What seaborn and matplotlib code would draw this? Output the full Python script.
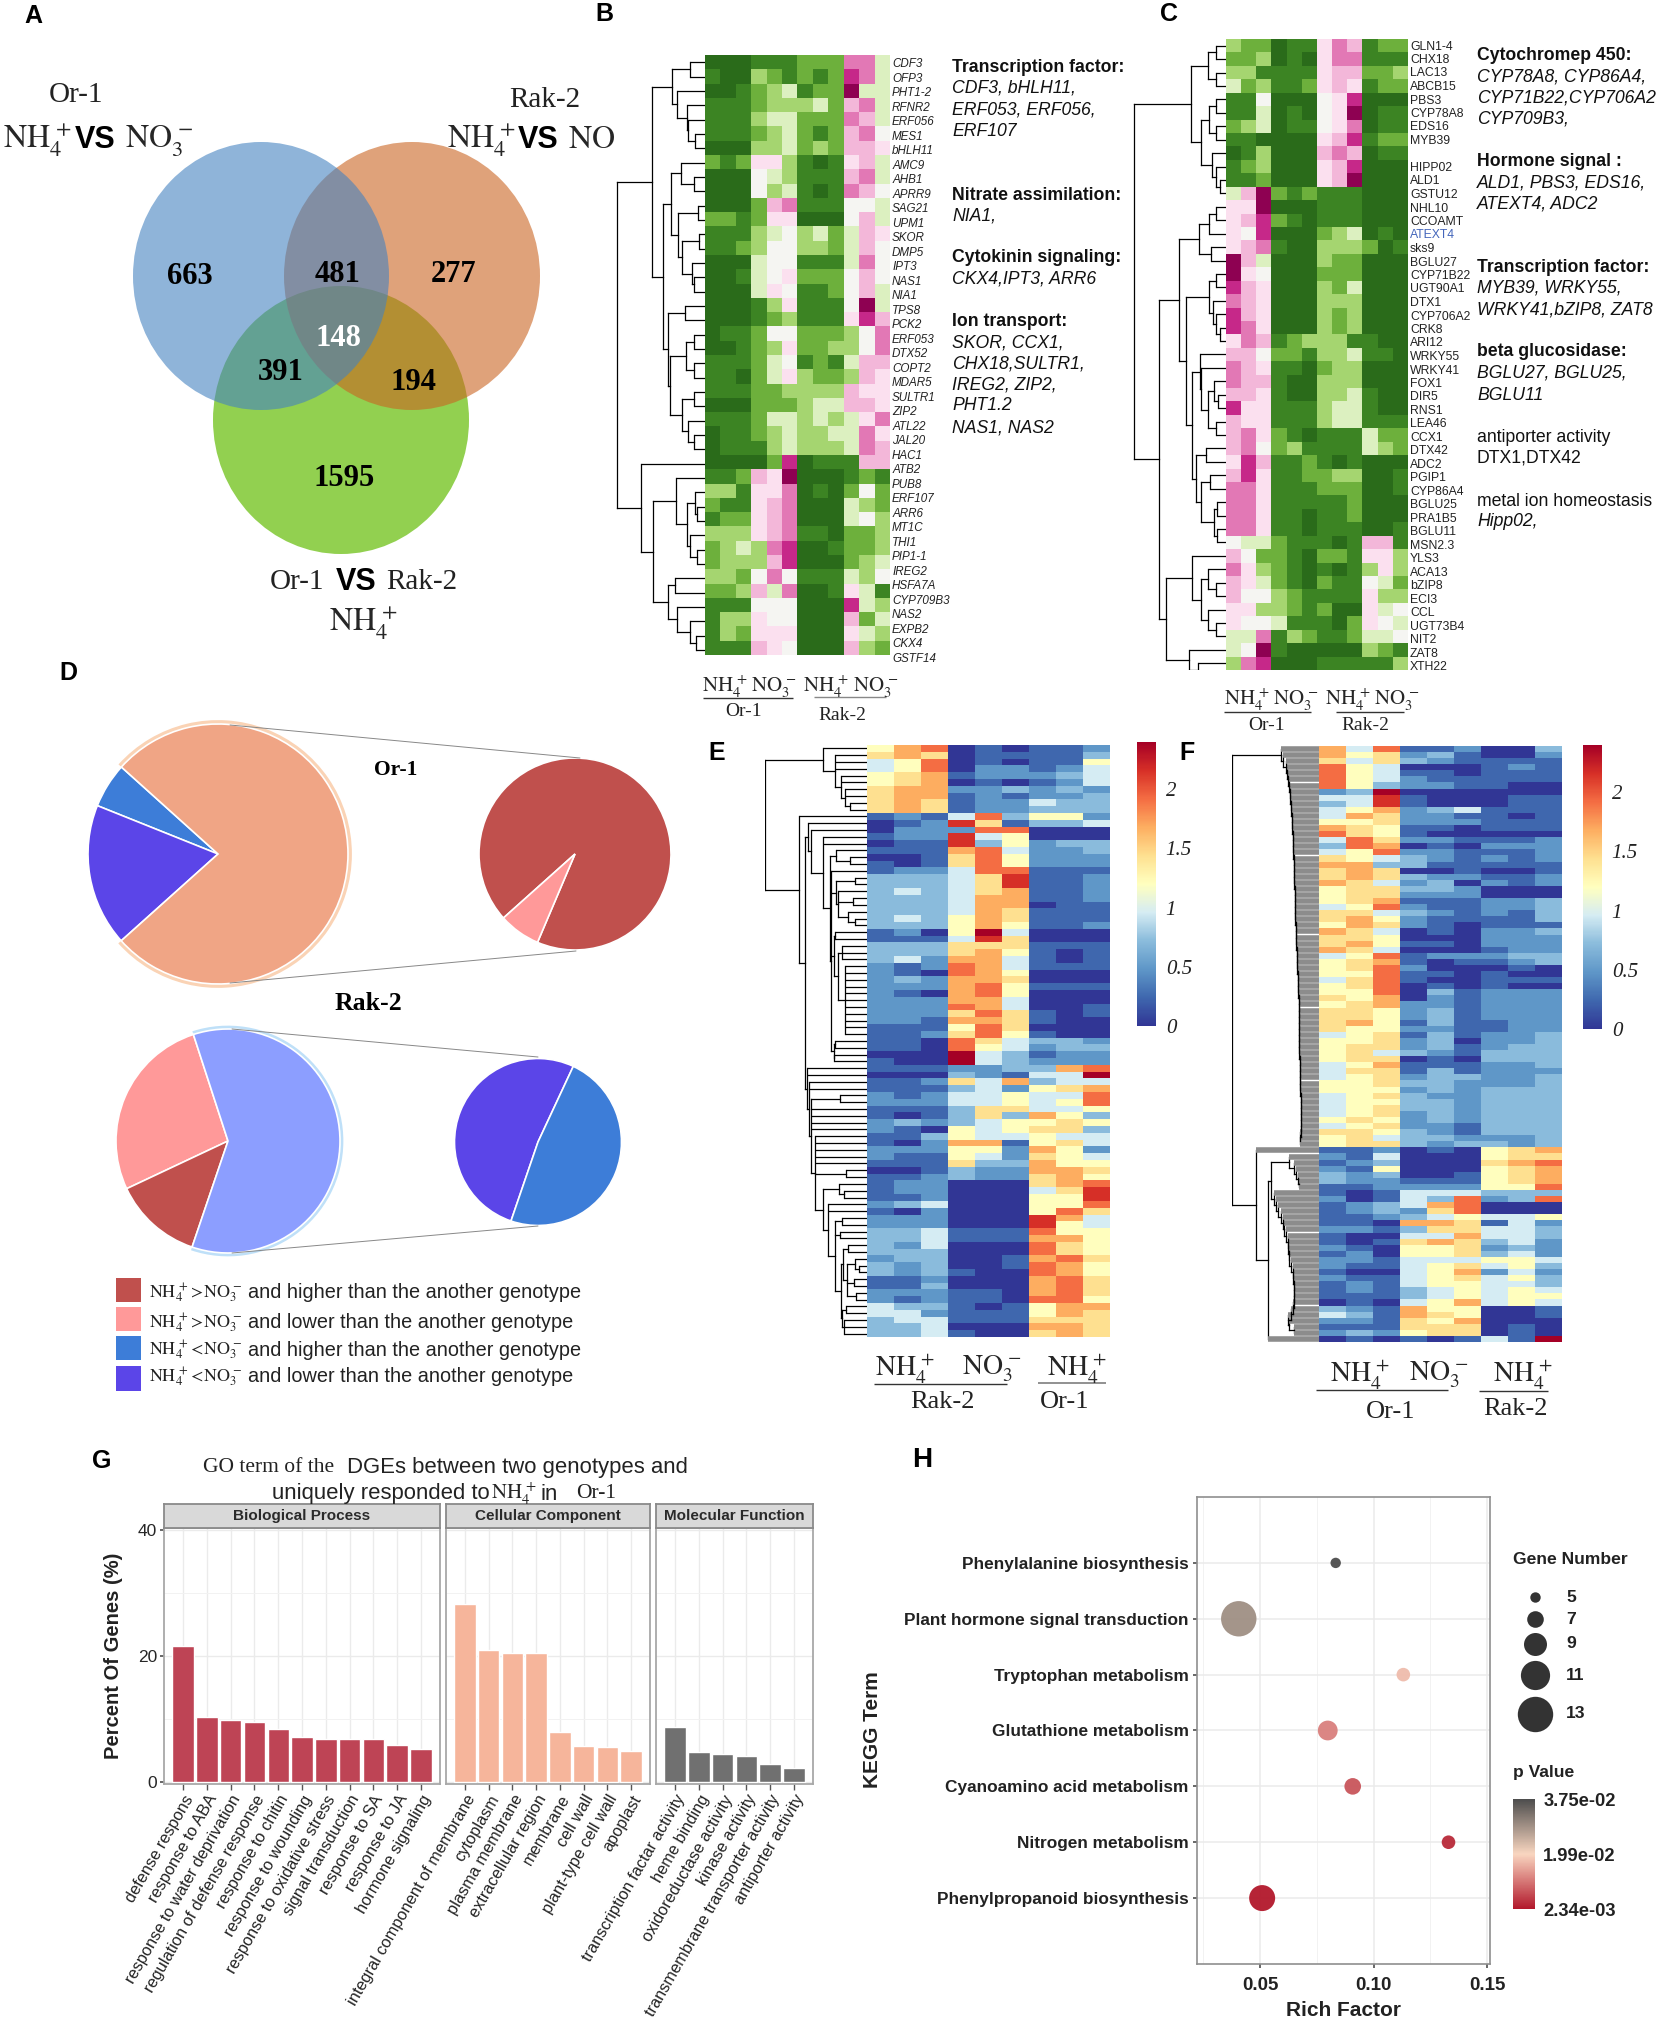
#### Multi panel figure: venn, clustered heatmaps, pies, GO bars, KEGG bubbles
import numpy as np
import pandas as pd
import matplotlib
matplotlib.use("Agg")
import matplotlib.pyplot as plt
import seaborn as sns
from matplotlib.patches import Ellipse, Rectangle
from matplotlib.colors import LinearSegmentedColormap, Normalize
from matplotlib.cm import ScalarMappable

W, H = 1658, 2022
SERIF = "Liberation Serif"

### Data
VENN_COUNTS = ["663", "481", "277", "148", "391", "194", "1595"]

# heatmap B/C cells are levels 0 (dark green) .. a (dark magenta)
B_GENES = ["CDF3", "OFP3", "PHT1-2", "RFNR2", "ERF056", "MES1", "bHLH11", "AMC9", "AHB1", "APRR9", "SAG21",
           "UPM1", "SKOR", "DMP5", "IPT3", "NAS1", "NIA1", "TPS8", "PCK2", "ERF053", "DTX52", "COPT2", "MDAR5",
           "SULTR1", "ZIP2", "ATL22", "JAL20", "HAC1", "ATB2", "PUB8", "ERF107", "ARR6", "MT1C", "THI1", "PIP1-1",
           "IREG2", "HSFA7A", "CYP709B3", "NAS2", "EXPB2", "CKX4", "GSTF14"]
B_CELLS = ["000 111 222 884", "100 321 212 984", "001 234 122 a44", "111 233 342 784", "111 344 222 874",
           "111 234 212 785", "000 334 232 776", "212 663 101 674", "000 543 111 784", "000 534 101 875",
           "000 278 111 554", "221 266 000 574", "111 345 342 476", "112 355 332 475", "000 455 111 485",
           "001 456 222 575", "000 465 112 574", "000 136 111 5a4", "000 123 111 697", "011 255 222 358",
           "001 236 223 358", "111 245 121 477", "110 246 322 376", "111 223 333 766", "000 222 344 776",
           "111 244 343 468", "011 234 334 486", "011 134 333 487", "000 029 011 177", "112 76a 000 121",
           "331 668 010 252", "211 678 000 432", "122 678 000 453", "333 678 110 223", "234 389 001 223",
           "233 379 000 234", "332 585 111 435", "223 748 001 641", "111 555 000 943", "133 655 000 724",
           "132 666 000 643", "111 765 000 732"]

C_GENES = ["GLN1-4", "CHX18", "LAC13", "ABCB15", "PBS3", "CYP78A8", "EDS16", "MYB39", "", "HIPP02", "ALD1",
           "GSTU12", "NHL10", "CCOAMT", "ATEXT4", "sks9", "BGLU27", "CYP71B22", "UGT90A1", "DTX1", "CYP706A2",
           "CRK8", "ARI12", "WRKY55", "WRKY41", "FOX1", "DIR5", "RNS1", "LEA46", "CCX1", "DTX42", "ADC2", "PGIP1",
           "CYP86A4", "BGLU25", "PRA1B5", "BGLU11", "MSN2.3", "YLS3", "ACA13", "bZIP8", "ECI3", "CCL", "UGT73B4",
           "NIT2", "ZAT8", "XTH22"]
C_CELLS = ["322 011 687 122", "223 010 688 111", "331 111 677 223", "423 112 676 122", "115 000 569 000",
           "114 010 56a 011", "234 011 568 011", "110 000 679 122", "013 000 787 011", "123 000 679 000",
           "112 000 67a 000", "47a 212 111 000", "66a 000 111 000", "679 210 111 000", "659 000 234 010",
           "678 100 333 201", "a74 000 322 000", "a65 000 222 000", "976 000 324 000", "876 000 333 000",
           "976 000 323 000", "986 000 323 000", "687 123 331 100", "775 221 334 110", "876 110 233 000",
           "877 100 333 000", "776 100 334 100", "966 111 344 100", "766 111 344 111", "786 210 111 422",
           "785 231 111 432", "697 112 101 000", "796 112 233 001", "886 111 222 001", "886 111 112 000",
           "886 110 112 000", "886 110 111 001", "544 211 101 771", "752 210 221 663", "863 210 101 363",
           "764 210 211 542", "755 321 111 633", "663 321 200 645", "655 411 102 654", "448 132 112 445",
           "45a 100 000 321", "389 000 111 113"]

# heatmap E/F cells are levels 0 (dark blue) .. a (dark red), one level = 0.24
E_CELLS = ["578 010 112", "676 011 113", "458 010 115", "458 022 124", "567 122 234", "567 010 124",
           "677 223 232", "677 121 223", "676 122 433", "676 122 333", "121 483 552", "012 961 334",
           "022 288 000", "122 945 000", "011 935 233", "111 784 223", "001 685 222", "101 685 222",
           "122 488 111", "333 469 112", "333 469 112", "343 467 112", "333 477 112", "333 477 011",
           "333 476 111", "343 576 111", "333 575 112", "120 5a4 000", "111 496 000", "333 666 111",
           "333 675 101", "342 774 101", "212 874 111", "210 875 000", "232 776 000", "222 785 111",
           "210 785 000", "222 774 000", "222 874 001", "222 686 101", "221 776 100", "111 586 000",
           "112 685 100", "110 864 332", "110 854 233", "000 a43 122", "100 a43 222", "111 223 378",
           "000 321 44a", "112 647 344", "111 342 567", "212 445 448", "222 445 458", "111 366 445",
           "101 363 753", "232 345 565", "210 545 663", "113 544 544", "102 771 564", "222 552 752",
           "211 542 654", "111 633 755", "001 322 776", "112 322 675", "122 000 678", "122 000 469",
           "112 000 559", "234 000 558", "102 000 586", "222 000 974", "222 000 954", "334 111 855",
           "334 111 775", "324 000 865", "333 000 865", "233 001 786", "323 001 875", "323 100 875",
           "112 000 786", "113 000 786", "222 110 786", "212 110 885", "433 101 577", "442 111 576",
           "344 111 666", "334 000 776", "334 100 676"]
F_CELLS = ["748 112 003", "756 231 002", "646 321 111", "854 000 121", "854 110 111", "854 211 111",
           "853 221 100", "23a 000 000", "449 100 011", "349 100 011", "457 234 111", "476 221 101",
           "556 222 111", "765 110 111", "865 100 000", "486 221 112", "387 010 222", "458 221 112",
           "654 321 212", "773 311 111", "676 001 001", "676 322 112", "764 230 212", "566 332 000",
           "566 222 000", "567 111 223", "458 211 223", "664 321 213", "675 211 113", "576 210 111",
           "764 010 223", "665 000 222", "675 110 222", "764 000 122", "458 122 233", "567 101 123",
           "568 200 010", "558 110 100", "468 100 111", "568 010 100", "558 031 222", "657 021 222",
           "567 221 222", "665 231 222", "665 231 222", "675 131 122", "655 221 122", "456 131 223",
           "556 230 223", "566 231 233", "564 321 333", "566 010 333", "457 111 223", "466 131 222",
           "456 233 223", "556 332 223", "555 232 333", "456 322 333", "455 332 333", "456 332 333",
           "456 232 333", "565 232 333", "456 221 333", "665 321 333", "564 332 223", "566 323 323",
           "112 010 567", "214 000 566", "123 000 678", "215 000 567", "323 001 567", "322 111 567",
           "112 222 558", "101 444 333", "201 438 238", "123 478 000", "123 268 000", "112 345 445",
           "110 776 142", "221 366 443", "100 447 443", "101 676 342", "210 556 232", "120 556 342",
           "221 444 554", "211 456 453", "100 457 242", "211 456 453", "121 455 443", "121 345 454",
           "111 345 455", "010 457 454", "321 755 001", "431 765 001", "221 657 000", "111 666 010",
           "232 566 010", "010 101 41a"]

# dendrograms: node = [merge height, children...], L is a leaf
L = 0
B_TREE = [88,
          [53,
           [33, [15, L, L], [28, L, [18, L, [17, L, [10, L, L]]]]],
           [42,
            [34, [24, L, [11, L, L]], [27, [7, L, L], [23, [6, L, L], [13, L, [11, L, L]]]]],
            [37, [20, L, L], [35, [19, [11, L, L], [11, L, L]], [23, [11, L, L], [17, L, [11, L, L]]]]]]],
          [64, L,
           [52,
            [29, L, [18, [10, L, [8, L, L]], [15, L, [8, L, L]]]],
            [37, [30, L, L], [28, L, [15, L, [9, L, L]]]]]]]
C_TREE = [92,
          [35, [18, [10, L, L], [10, L, L]], [25, [17, [10, L, L], [10, L, L]], [14, L, [10, L, [6, L, L]]]]],
          [67,
           [47,
            [27, [17, [10, L, L], L], [15, L, L]],
            [40,
             [17, [10, L, L], [13, L, [10, L, [6, L, L]]]],
             [34,
              [26, L, [25, L, [18, [12, L, [8, L, L]], [10, L, L]]]],
              [30, [20, L, L], [25, [16, L, L], [12, [9, L, L], [9, L, L]]]]]]],
           [60,
            [34, L, [25, [18, L, [10, L, L]], [18, L, [10, L, L]]]],
            [37, L, [28, L, L]]]]]
E_MID = [37,
         [31, L, [17, L, L]],
         [36, L,
          [31, [12, L, L], [29, L, [14, L, L], [19, L, [12, L, L]]]],
          [33, [32, L, L], [29, [25, L, L, L], [22, L, L, L, L, L, L, L, L, L, L, L]]],
          [33, [32, L, L], [33, L, L]]]]
E_LOW = [60, L, L, [58, L, L, [56, [27, L, L], L, L, L, L, [52, L, L, L, L, L, [21, L, L],
         [44, [28, L, [23, L, L]],
          [39, L, L, [32, [25, L, L], [27, L, L],
                      [26, [24, [19, L, L], [20, [12, L, [8, L, L]], [13, L, L], [11, L, L]]],
                       [25, [21, L, L], [23, L, L, L]]]]]]]]]]
E_TREE = [102,
          [44, L, [32, L, L, L, [26, L, L, [22, L, L, [17, L, L]]]]],
          [68, L, [62, [59, L, [56, L, [44, L, L, E_MID]]], E_LOW]]]
F_TOP_SPINE = [38, 36, 33, 32, 31, 30, 29, 29, 28, 28, 27, 27, 27, 26, 26, 26, 26, 25, 25, 25, 25, 25,
               24, 24, 24, 24, 24, 24, 23, 23, 23, 23, 22, 22, 22, 22, 21, 21, 21, 21,
               20, 20, 20, 20, 20, 20, 20, 20, 20, 20, 19, 19, 19, 19, 19, 19, 18, 18, 18, 18, 18, 18, 18, 19, 19, 19]
F_LOW1_SPINE = [30, 25, 23, 21, 20, 18]
F_LOW2_SPINE = [45, 43, 41, 38, 36, 35, 33, 31, 31, 30, 30, 28, 26, 26, 25, 25, 25, 25, 26, 28, 31, 30, 25, 20]

PIE_OR1 = [5.6, 17.7, 76.7]
PIE_OR1_ZOOM = [93, 7]
PIE_RAK2 = [27, 12.8, 60.2]
PIE_RAK2_ZOOM = [51.7, 48.3]
LEGEND_D = ["and higher than the another genotype", "and lower than the another genotype",
            "and higher than the another genotype", "and lower than the another genotype"]

BP_TERMS = ["defense respons", "response to ABA", "response to water deprivation", "regulation of defense response",
            "response to chitin", "response to wounding", "response to oxidative stress", "signal transduction",
            "response to SA", "response to JA", "hormone signaling"]
BP_PCT = [21.6, 10.4, 9.9, 9.5, 8.4, 7.1, 6.9, 6.9, 6.8, 5.9, 5.2]
CC_TERMS = ["integral component of membrane", "cytoplasm", "plasma membrane", "extracellular region",
            "membrane", "cell wall", "plant-type cell wall", "apoplast"]
CC_PCT = [28.3, 21.0, 20.4, 20.4, 8.0, 5.7, 5.6, 4.9]
MF_TERMS = ["transcription factar activity", "heme binding", "oxidoreductase activity", "kinase activity",
            "transmembrane transporter activity", "antiporter activity"]
MF_PCT = [8.8, 4.7, 4.4, 4.2, 2.9, 2.2]

KEGG_TERMS = ["Phenylalanine biosynthesis", "Plant hormone signal transduction", "Tryptophan metabolism",
              "Glutathione metabolism", "Cyanoamino acid metabolism", "Nitrogen metabolism",
              "Phenylpropanoid biosynthesis"]
KEGG_RICH = [0.0833, 0.0406, 0.1131, 0.0798, 0.0908, 0.133, 0.0509]
KEGG_GENES = [5, 13, 6, 8, 7, 6, 10]
KEGG_P = [0.0375, 0.029, 0.0175, 0.012, 0.008, 0.004, 0.00234]
GENE_RADIUS = {5: 5.2, 6: 6.8, 7: 8.3, 8: 9.9, 9: 11.5, 10: 13.0, 11: 14.6, 13: 17.7}

### Setup
sns.set_theme(style="white")
plt.rcParams["font.family"] = ["Liberation Sans", "DejaVu Sans"]
plt.rcParams["mathtext.fontset"] = "stix"

GREEN_PINK = LinearSegmentedColormap.from_list("gp", ["#2A6B1A", "#3C8523", "#6DB03C", "#A6D671", "#DCF0C0", "#F5F5F2",
                                                      "#FBE0EF", "#F3B8DA", "#E278B5", "#C7298A", "#8E0152"])
BLUE_RED = LinearSegmentedColormap.from_list("br", ["#313695", "#3F68AE", "#5F97C8", "#8BBCDC", "#D5ECF3", "#FFFFBF",
                                                    "#FEE090", "#FDAE61", "#F46D43", "#D73027", "#A50026"])

fig = plt.figure(figsize=(W / 100, H / 100), dpi=100, facecolor="white")


def px_ax(x0, y0, x1, y1, **kw):
    return fig.add_axes([x0 / W, 1 - y1 / H, (x1 - x0) / W, (y1 - y0) / H], **kw)


top = px_ax(0, 0, W, H, zorder=10)
top.set_xlim(0, W)
top.set_ylim(H, 0)
top.axis("off")


def txt(x, y, s, size=12, ha="left", va="center", **kw):
    return top.text(x, y + 2, s, fontsize=size, ha=ha, va=va, **kw)


def hline(x0, x1, y, color="#333333", lw=1.0):
    top.plot([x0, x1], [y, y], color=color, lw=lw, solid_capstyle="butt")


NH4 = r"$\mathrm{NH_4^{\,+}}$"
NO3 = r"$\mathrm{NO_3^{\,-}}$"

for letter, lx, ly, fs in [("A", 33, 14, 18), ("B", 604, 12, 18), ("C", 1169, 12, 18), ("D", 68, 671, 18),
                           ("E", 717, 751, 18), ("F", 1187, 751, 18), ("G", 102, 1459, 18), ("H", 922, 1458, 20)]:
    txt(lx, ly, letter, fs, ha="center", fontweight="bold", color="black")


### A: venn
for (cx, cy), col in [((341, 420), "#92D050"), ((412, 276), "#CA6421"), ((261, 276), "#4482C0")]:
    alpha = 1 if col == "#92D050" else 0.6
    top.add_patch(Ellipse((cx, cy), 256, 268, facecolor=col, edgecolor="none", alpha=alpha))
venn_pos = [(190, 275), (338, 273), (454, 273), (338, 337), (281, 371), (414, 380), (344, 477)]
for s, (vx, vy) in zip(VENN_COUNTS, venn_pos):
    txt(vx, vy, s, 22, ha="center", family=SERIF, fontweight="bold", color="white" if s == "148" else "black")

txt(76, 93, "Or-1", 21, ha="center", family=SERIF, color="#222222")
txt(3, 138, NH4, 23)
txt(75, 138, "VS", 22, fontweight="bold", color="black")
txt(125, 138, NO3, 23)
txt(545, 98, "Rak-2", 21, ha="center", family=SERIF, color="#222222")
txt(447, 138, NH4, 23)
txt(518, 138, "VS", 22, fontweight="bold", color="black")
txt(568, 138, r"$\mathrm{NO}$", 23)
txt(270, 580, "Or-1", 21, family=SERIF, color="#222222")
txt(336, 580, "VS", 22, fontweight="bold", color="black")
txt(386, 580, "Rak-2", 21, family=SERIF, color="#222222")
txt(363, 621, NH4, 23, ha="center")


### dendrogram + heatmap helpers
def draw_tree(ax, tree, leaf_color="black", leaf_lw=0.9):
    n_seen = [0]
    inner = dict(color="black", lw=0.9, solid_capstyle="projecting")
    leaf = dict(color=leaf_color, lw=leaf_lw, solid_capstyle="butt")

    def walk(node):
        if node == L:
            y = n_seen[0] + 0.5
            n_seen[0] += 1
            return 0, y
        h = node[0]
        kids = [walk(c) for c in node[1:]]
        ys = [k[1] for k in kids]
        ax.plot([h, h], [ys[0], ys[-1]], **inner)
        for kh, ky in kids:
            ax.plot([h, kh], [ky, ky], **(leaf if kh == 0 else inner))
        return h, (ys[0] + ys[-1]) / 2

    walk(tree)


def levels(rows):
    return np.array([[int(c, 16) for c in r.replace(" ", "")] for r in rows])


def gene_heatmap(x0, y0, x1, y1, tree_left, rows, genes, label_top, label_bot, tree, size, italic):
    cells = levels(rows)
    ax = px_ax(x0, y0, x1, y1)
    sns.heatmap(cells, cmap=GREEN_PINK, vmin=0, vmax=10, cbar=False, xticklabels=False, yticklabels=False, ax=ax)
    row_h = (y1 - y0) / len(rows)
    ax.set_yticks((np.linspace(label_top, label_bot, len(genes)) - y0) / row_h)
    ax.set_yticklabels(genes, rotation=0, fontsize=size, style="italic" if italic else "normal", color="#222222")
    ax.yaxis.tick_right()
    ax.tick_params(axis="y", length=0, pad=1.5)
    for lab in ax.get_yticklabels():
        if lab.get_text() == "ATEXT4":
            lab.set_color("#4466BB")
    den = px_ax(tree_left, y0, x0, y1)
    den.set_xlim(x0 - tree_left, 0)
    den.set_ylim(len(rows), 0)
    den.axis("off")
    draw_tree(den, tree)


### B
gene_heatmap(705, 55, 890, 657, 612, B_CELLS, B_GENES, 63, 659, B_TREE, 8.4, True)
b_notes = [("Transcription factor:", 66, True), ("CDF3, bHLH11,", 86, False), ("ERF053, ERF056,", 108, False),
           ("ERF107", 129, False), ("Nitrate assimilation:", 193, True), ("NIA1,", 214, False),
           ("Cytokinin signaling:", 256, True), ("CKX4,IPT3, ARR6", 277, False), ("Ion transport:", 320, True),
           ("SKOR, CCX1,", 341, False), ("CHX18,SULTR1,", 362, False), ("IREG2, ZIP2,", 383, False),
           ("PHT1.2", 404, False), ("NAS1, NAS2", 426, False)]
for s, ny, bold in b_notes:
    txt(952, ny, s, 12.7, color="#111111", fontweight="bold" if bold else "normal", style="normal" if bold else "italic")
txt(702, 685, NH4, 15)
txt(751, 685, NO3, 15)
hline(703, 793, 698)
txt(744, 709, "Or-1", 14, ha="center", family=SERIF, color="#222222")
txt(803, 685, NH4, 15)
txt(853, 685, NO3, 15)
hline(814, 886, 697, "#888888")
txt(842, 713, "Rak-2", 14, ha="center", family=SERIF, color="#222222")

### C
gene_heatmap(1226, 39, 1408, 670, 1133, C_CELLS, C_GENES, 45, 666, C_TREE, 8.8, False)
c_notes = [("Cytochromep 450:", 54, "b"), ("CYP78A8, CYP86A4,", 75, "i"), ("CYP71B22,CYP706A2", 96, "i"),
           ("CYP709B3,", 117, "i"), ("Hormone signal :", 160, "b"), ("ALD1, PBS3, EDS16,", 181, "i"),
           ("ATEXT4, ADC2", 202, "i"), ("Transcription factor:", 266, "b"), ("MYB39, WRKY55,", 286, "i"),
           ("WRKY41,bZIP8, ZAT8", 308, "i"), ("beta glucosidase:", 350, "b"), ("BGLU27, BGLU25,", 371, "i"),
           ("BGLU11", 393, "i"), ("antiporter activity", 435, "n"), ("DTX1,DTX42", 456, "n"),
           ("metal ion homeostasis", 499, "n"), ("Hipp02,", 520, "i")]
for s, ny, kind in c_notes:
    txt(1477, ny, s, 12.7, color="#111111", fontweight="bold" if kind == "b" else "normal",
        style="italic" if kind == "i" else "normal")
txt(1224, 698, NH4, 15)
txt(1273, 698, NO3, 15)
hline(1224, 1311, 712)
txt(1267, 724, "Or-1", 14, ha="center", family=SERIF, color="#222222")
txt(1325, 698, NH4, 15)
txt(1374, 698, NO3, 15)
hline(1336, 1404, 712)
txt(1365, 724, "Rak-2", 14, ha="center", family=SERIF, color="#222222")


### D: pies
def pie_ax(cx, cy, r, values, colors, start, glow=None):
    ax = px_ax(cx - r * 1.1, cy - r * 1.1, cx + r * 1.1, cy + r * 1.1)
    if glow:
        # only the exploded slice has the halo
        ax.pie(values, colors=[(0, 0, 0, 0)] * (len(values) - 1) + [glow], startangle=start, radius=1.03,
               wedgeprops=dict(linewidth=0))
    ax.pie(values, colors=colors, startangle=start, radius=1.0,
           wedgeprops=dict(edgecolor="white", linewidth=1.2))
    ax.set_xlim(-1.1, 1.1)
    ax.set_ylim(-1.1, 1.1)


RED, PINK, BLUE, PURPLE = "#C0504D", "#FF9999", "#3D7DD8", "#5B45E8"
pie_ax(218, 854, 130, PIE_OR1, [BLUE, PURPLE, "#F0A585"], 138, glow="#FAD3B5")
pie_ax(575, 854, 96, PIE_OR1_ZOOM, [RED, PINK], 247)
pie_ax(228, 1141, 112, PIE_RAK2, [PINK, RED, "#8C9EFF"], 108, glow="#BFE0F8")
pie_ax(538, 1142, 83.5, PIE_RAK2_ZOOM, [PURPLE, BLUE], 65)

top.plot([230, 580], [725, 758], color="#888888", lw=0.7)
top.plot([230, 576], [983, 951], color="#888888", lw=0.7)
top.plot([232, 538], [1029, 1057], color="#888888", lw=0.7)
top.plot([232, 538], [1253, 1226], color="#888888", lw=0.7)
txt(396, 768, "Or-1", 15.5, ha="center", family=SERIF, fontweight="bold", color="black")
txt(368, 1001, "Rak-2", 18.5, ha="center", family=SERIF, fontweight="bold", color="black")

leg_y = [(1278, 1302, 1291), (1307, 1331, 1321), (1336, 1360, 1348), (1366, 1391, 1375)]
leg_signs = [">", ">", "<", "<"]
for (y0, y1, ty), col, sign, s in zip(leg_y, [RED, PINK, BLUE, PURPLE], leg_signs, LEGEND_D):
    top.add_patch(Rectangle((116, y0), 25, y1 - y0, facecolor=col, edgecolor="none"))
    txt(149, ty, r"$\mathrm{NH_4^{\,+}}\!" + sign + r"\!\mathrm{NO_3^{\,-}}$", 13, color="#222222")
    txt(248, ty, s, 14.3, color="#222222")


### E / F heatmaps
def expr_heatmap(x0, y0, x1, y1, rows, cb_box, tick_px_x):
    cells = levels(rows) * 0.24
    ax = px_ax(x0, y0, x1, y1)
    cax = px_ax(*cb_box)
    sns.heatmap(cells, cmap=BLUE_RED, vmin=0, vmax=2.4, xticklabels=False, yticklabels=False,
                ax=ax, cbar_ax=cax)
    cax.set_yticks([0, 0.5, 1, 1.5, 2])
    cax.set_yticklabels(["0", "0.5", "1", "1.5", "2"], family=SERIF, style="italic", fontsize=15, color="#222222")
    cax.tick_params(axis="y", length=0, pad=tick_px_x)
    return ax


expr_heatmap(867, 745, 1110, 1337, E_CELLS, (1137, 742, 1156, 1026), 7)
den = px_ax(765, 745, 867, 1337)
den.set_xlim(102, 0)
den.set_ylim(len(E_CELLS), 0)
den.axis("off")
draw_tree(den, E_TREE)


def comb(heights):
    node = L
    for h in reversed(heights[:-1]):
        node = [h, L, node]
    return node


expr_heatmap(1319, 746, 1562, 1342, F_CELLS, (1583, 745, 1602, 1029), 7)
den = px_ax(1232, 746, 1319, 1342)
den.set_xlim(87, 0)
den.set_ylim(len(F_CELLS), 0)
den.axis("off")
F_TREE = [87, comb(F_TOP_SPINE),
          [63, L, [51, [48, comb(F_LOW1_SPINE), comb(F_LOW2_SPINE)], L]]]
draw_tree(den, F_TREE, leaf_color="#8c8c8c", leaf_lw=4.0)

txt(875, 1367, NH4, 20)
txt(962, 1367, NO3, 20)
hline(874, 1007, 1384)
txt(942, 1400, "Rak-2", 19, ha="center", family=SERIF, color="#222222")
txt(1047, 1367, NH4, 20)
hline(1038, 1106, 1383, "#888888", 1.3)
txt(1065, 1400, "Or-1", 19, ha="center", family=SERIF, color="#222222")

txt(1330, 1373, NH4, 20)
txt(1409, 1373, NO3, 20)
hline(1316, 1448, 1390)
txt(1391, 1410, "Or-1", 19, ha="center", family=SERIF, color="#222222")
txt(1493, 1373, NH4, 20)
hline(1479, 1548, 1391)
txt(1515, 1407, "Rak-2", 19, ha="center", family=SERIF, color="#222222")

### G: GO bars
txt(203, 1466, "GO term of the", 15.5, family=SERIF, color="#222222")
txt(347, 1466, "DGEs between two genotypes and", 15.9, color="#222222")
txt(272, 1492, "uniquely responded to", 15.9, color="#222222")
txt(491, 1492, NH4, 15)
txt(541, 1492, "in", 15.9, color="#222222")
txt(576, 1492, "Or-1", 15.5, family=SERIF, color="#222222")

go_panels = [(164, 440, "Biological Process", BP_TERMS, BP_PCT, "#BE4455"),
             (446, 650, "Cellular Component", CC_TERMS, CC_PCT, "#F6B59B"),
             (656, 813, "Molecular Function", MF_TERMS, MF_PCT, "#707070")]
for i, (x0, x1, strip, terms, pct, col) in enumerate(go_panels):
    ax = px_ax(x0, 1528, x1, 1784)
    sns.barplot(x=terms, y=pct, color=col, saturation=1, width=0.9, ax=ax)
    ax.set_xlim(-0.8, len(terms) - 0.2)
    ax.set_ylim(-0.3, 40.3)
    ax.set_yticks([0, 20, 40])
    ax.set_yticks([10, 30], minor=True)
    ax.set_axisbelow(True)
    ax.grid(axis="both", which="major", color="#ebebeb", lw=1.0)
    ax.grid(axis="y", which="minor", color="#f2f2f2", lw=0.7)
    ax.tick_params(axis="x", length=4, width=1, color="#555555", bottom=True, pad=2, labelsize=11.8, rotation=60)
    for lab in ax.get_xticklabels():
        lab.set_ha("right")
        lab.set_rotation_mode("anchor")
        lab.set_color("#222222")
    if i == 0:
        ax.tick_params(axis="y", length=3, left=True, color="#555555", labelsize=12.5, pad=2)
    else:
        ax.tick_params(axis="y", which="both", length=0, labelleft=False)
    for sp in ax.spines.values():
        sp.set_color("#a8a8a8")
        sp.set_linewidth(1.3)
    st = px_ax(x0, 1504, x1, 1528)
    st.set_facecolor("#D9D9D9")
    st.set_xticks([])
    st.set_yticks([])
    for sp in st.spines.values():
        sp.set_color("#8a8a8a")
        sp.set_linewidth(1.3)
    st.text(0.5, 0.48, strip, transform=st.transAxes, ha="center", va="center", fontsize=11,
            fontweight="bold", color="#2a2a2a")
txt(114, 1654, "Percent Of Genes (%)", 14.5, ha="center", rotation=90, fontweight="bold", color="#222222")

### H: KEGG bubbles
p_cmap = LinearSegmentedColormap.from_list("pval", ["#B2182B", "#F9D6C0", "#4D4D4D"])
p_norm = Normalize(0.00234, 0.0375)
kegg = pd.DataFrame({"term": KEGG_TERMS, "rich": KEGG_RICH, "genes": KEGG_GENES, "p": KEGG_P})
ax = px_ax(1197, 1497, 1490.5, 1964)
sns.scatterplot(data=kegg, x="rich", y="term", size="genes", hue="p", palette=p_cmap, hue_norm=p_norm,
                sizes={g: (2 * GENE_RADIUS[g] * 0.72) ** 2 for g in GENE_RADIUS if g in KEGG_GENES},
                linewidth=0, alpha=0.95, legend=False, zorder=3, ax=ax)
ax.set_xlim(0.0222, 0.1515)
ax.set_ylim(7.18, -1.18)
ax.set_xticks([0.05, 0.10, 0.15])
ax.set_xticklabels(["0.05", "0.10", "0.15"])
ax.set_xticks([0.025, 0.075, 0.125], minor=True)
ax.set_axisbelow(True)
ax.grid(axis="both", which="major", color="#ebebeb", lw=1.1)
ax.grid(axis="x", which="minor", color="#f2f2f2", lw=0.7)
ax.set_xlabel("")
ax.set_ylabel("")
ax.tick_params(axis="x", which="major", length=3, bottom=True, color="#555555", labelsize=13.5, pad=6)
ax.tick_params(axis="y", length=3, left=True, color="#555555", labelsize=12.4, pad=3)
for lab in ax.get_yticklabels():
    lab.set_fontweight("bold")
    lab.set_color("#222222")
for lab in ax.get_xticklabels():
    lab.set_fontweight("bold")
    lab.set_color("#222222")
for sp in ax.spines.values():
    sp.set_color("#8f8f8f")
    sp.set_linewidth(1.2)
txt(1344, 2009, "Rich Factor", 15, ha="center", fontweight="bold", color="#222222")
txt(873, 1728, "KEGG Term", 15, ha="center", rotation=90, fontweight="bold", color="#222222")

txt(1513, 1558, "Gene Number", 12.6, fontweight="bold", color="#222222")
for g, ly in zip([5, 7, 9, 11, 13], [1597, 1619, 1644, 1675, 1714]):
    top.scatter([1535], [ly], s=(2 * GENE_RADIUS[g] * 0.72) ** 2, color="#333333", linewidth=0)
    txt(1566, ly - 2, str(g), 12.6, fontweight="bold", color="#222222")
txt(1513, 1771, "p Value", 12.6, fontweight="bold", color="#222222")
cax = px_ax(1513, 1799, 1535, 1909)
cb = fig.colorbar(ScalarMappable(norm=p_norm, cmap=p_cmap), cax=cax)
cb.set_ticks([0.00234, 0.0199, 0.0375])
cb.set_ticklabels(["2.34e-03", "1.99e-02", "3.75e-02"], fontsize=13.2, fontweight="bold", color="#222222")
cb.ax.tick_params(length=0, pad=6)
cb.outline.set_visible(False)

fig.savefig("out.png", dpi=100)
